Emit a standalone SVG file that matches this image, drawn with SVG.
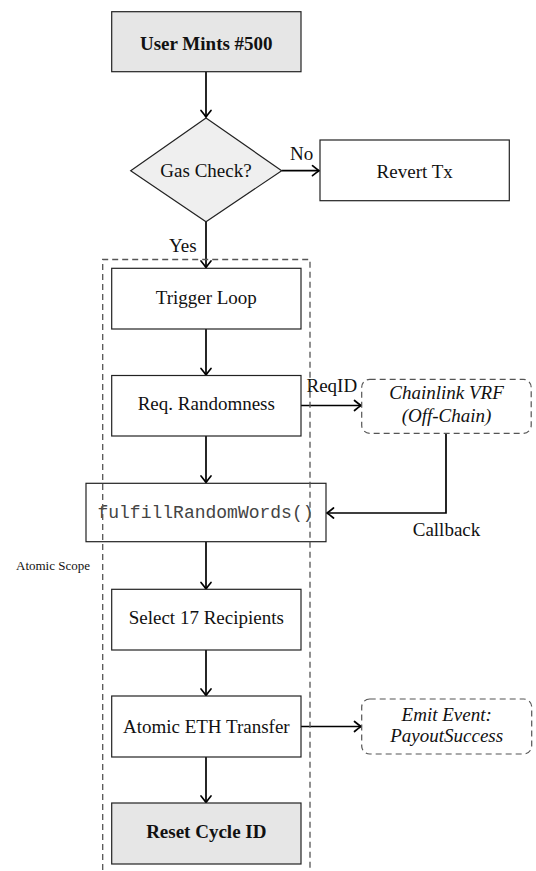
<svg xmlns="http://www.w3.org/2000/svg" width="536" height="871" viewBox="0 0 536 871">
<defs>
<style>
.box{fill:#ffffff;stroke:#222;stroke-width:1.2}
.gray{fill:#e6e6e6;stroke:#222;stroke-width:1.2}
.dia{fill:#efefef;stroke:#222;stroke-width:1.2}
.ext{fill:#ffffff;stroke:#555;stroke-width:1.2;stroke-dasharray:6 4}
.scope{fill:none;stroke:#555;stroke-width:1.3;stroke-dasharray:6 4}
.t{font-family:"Liberation Serif","Times New Roman",serif;font-size:19px;fill:#111;text-anchor:middle}
.b{font-weight:bold}
.i{font-style:italic}
.m{font-family:"Liberation Mono","Courier New",monospace;font-size:18px;fill:#444;text-anchor:middle}
.lbl{font-family:"Liberation Serif","Times New Roman",serif;font-size:19px;fill:#111}
.small{font-family:"Liberation Serif","Times New Roman",serif;font-size:13px;fill:#111}
.c{fill:none;stroke:#000;stroke-width:1.7}
</style>
<marker id="ah" viewBox="-9 -7 11 14" refX="0" refY="0" markerWidth="11" markerHeight="14" markerUnits="userSpaceOnUse" orient="auto">
<path d="M-6.5,-5 Q-2,-1.3 0,0 Q-2,1.3 -6.5,5" fill="none" stroke="#000" stroke-width="1.7" stroke-linecap="round"/>
</marker>
</defs>
<rect width="536" height="871" fill="#ffffff"/>

<g id="connectors">
<path class="c" d="M206,71.7 V117" marker-end="url(#ah)"/>
<path class="c" d="M281.7,170.7 H319" marker-end="url(#ah)"/>
<path class="c" d="M206,221.7 V267.5" marker-end="url(#ah)"/>
<path class="c" d="M206,329 V375" marker-end="url(#ah)"/>
<path class="c" d="M301,405.5 H361" marker-end="url(#ah)"/>
<path class="c" d="M446,433.3 V513 H327" marker-end="url(#ah)"/>
<path class="c" d="M206,436 V482.5" marker-end="url(#ah)"/>
<path class="c" d="M206,541.7 V589" marker-end="url(#ah)"/>
<path class="c" d="M206,650 V695.5" marker-end="url(#ah)"/>
<path class="c" d="M301,726.5 H361" marker-end="url(#ah)"/>
<path class="c" d="M206,757 V802.5" marker-end="url(#ah)"/>
<text class="lbl" x="290" y="160">No</text>
<text class="lbl" x="169" y="251.7">Yes</text>
<text class="lbl" x="306.5" y="391.7">ReqID</text>
<text class="t" x="446.5" y="536">Callback</text>
</g>

<g id="user-mints">
<rect class="gray" x="111.7" y="11.7" width="189.3" height="60"/>
<text class="t b" x="206.3" y="50">User Mints #500</text>
</g>

<g id="gas-check">
<polygon class="dia" points="206,118 281.7,170.7 206,221.7 130.7,170.7"/>
<text class="t" x="206" y="177">Gas Check?</text>
</g>

<g id="revert-tx">
<rect class="box" x="320" y="140" width="189.3" height="60.7"/>
<text class="t" x="414.7" y="178">Revert Tx</text>
</g>

<g id="trigger-loop">
<rect class="box" x="111.7" y="268.3" width="189.3" height="60.7"/>
<text class="t" x="206.3" y="304">Trigger Loop</text>
</g>

<g id="req-randomness">
<rect class="box" x="111.7" y="375.5" width="189.3" height="60.5"/>
<text class="t" x="206.3" y="410">Req. Randomness</text>
</g>

<g id="chainlink-vrf">
<rect class="ext" x="361.7" y="379.3" width="169.5" height="54" rx="8" ry="8"/>
<text class="t i" x="446.5" y="399.3">Chainlink VRF</text>
<text class="t i" x="446.5" y="421.7">(Off-Chain)</text>
</g>

<g id="fulfill">
<rect class="box" x="86" y="483.3" width="240" height="58.4"/>
<text class="m" x="205.5" y="518">fulfillRandomWords()</text>
</g>

<g id="select-recipients">
<rect class="box" x="111.7" y="589.3" width="189.3" height="60.7"/>
<text class="t" x="206.3" y="624">Select 17 Recipients</text>
</g>

<g id="atomic-transfer">
<rect class="box" x="111.7" y="696" width="189.3" height="61"/>
<text class="t" x="206.3" y="733">Atomic ETH Transfer</text>
</g>

<g id="emit-event">
<rect class="ext" x="361.7" y="699" width="170" height="55" rx="8" ry="8"/>
<text class="t i" x="446.7" y="720.7">Emit Event:</text>
<text class="t i" x="446.7" y="742">PayoutSuccess</text>
</g>

<g id="reset-cycle">
<rect class="gray" x="111.7" y="803" width="189.3" height="61"/>
<text class="t b" x="206.3" y="838">Reset Cycle ID</text>
</g>

<g id="atomic-scope">
<path class="scope" d="M102.7,880 V259.5 H310 V880"/>
<text class="small" x="16" y="570">Atomic Scope</text>
</g>
</svg>
